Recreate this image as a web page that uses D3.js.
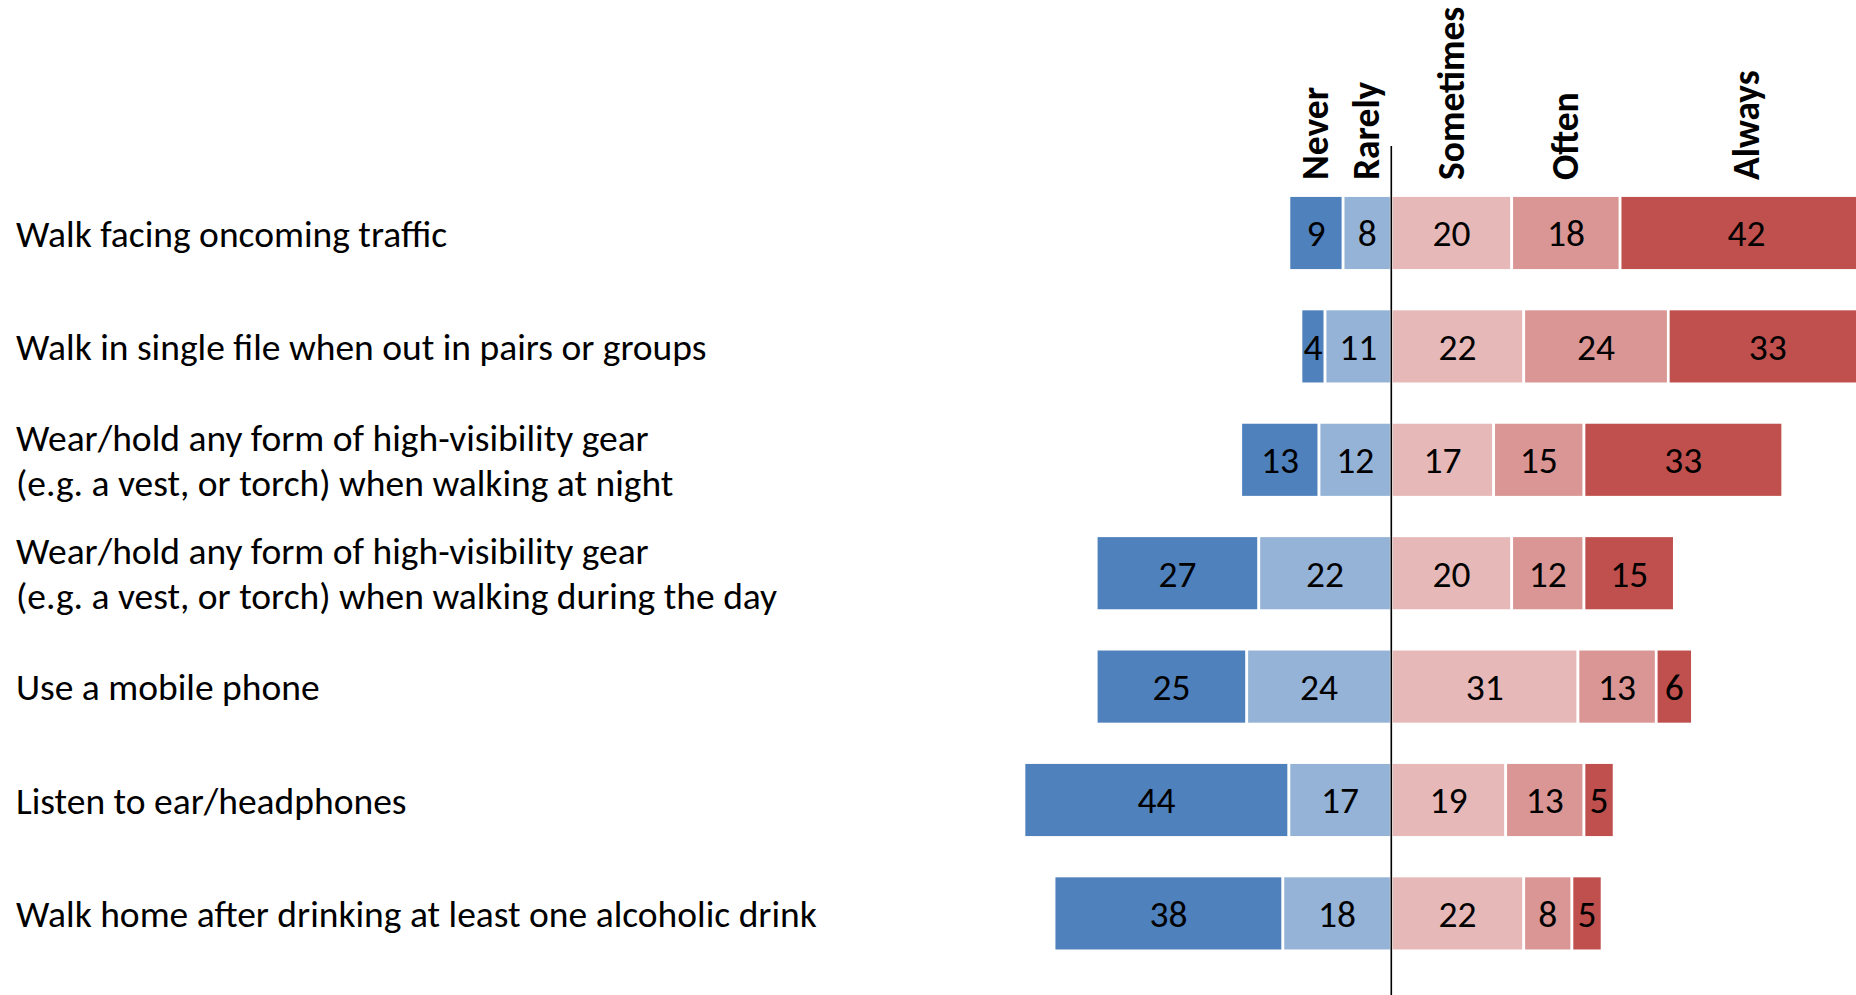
<!DOCTYPE html>
<html lang="en">
<head>
    <meta charset="UTF-8">
    <title>Pedestrian behaviour</title>
    <style>
        body {
            margin: 0;
            background-color: #ffffff;
        }

        svg {
            display: block;
            font-family: "Carlito", "Calibri", "Lato", sans-serif;
        }

        .row-label {
            font-size: 37.5px;
            fill: #000000;
        }

        .value-label {
            font-size: 37.5px;
            fill: #000000;
            text-anchor: middle;
        }

        .header-label {
            font-size: 37.5px;
            font-weight: bold;
            fill: #000000;
        }
    </style>
</head>
<body>
    <svg id="chart" width="1856" height="995"></svg>

    <script src="https://d3js.org/d3.v7.min.js"></script>
    <script>
        // categories (line breaks as in the original labels)
        const categories = [
            "Walk facing oncoming traffic",
            "Walk in single file when out in pairs or groups",
            "Wear/hold any form of high-visibility gear\n(e.g. a vest, or torch) when walking at night",
            "Wear/hold any form of high-visibility gear\n(e.g. a vest, or torch) when walking during the day",
            "Use a mobile phone",
            "Listen to ear/headphones",
            "Walk home after drinking at least one alcoholic drink"
        ];

        const responses = ["Never", "Rarely", "Sometimes", "Often", "Always"];

        // percentages per response
        const never     = [9, 4, 13, 27, 25, 44, 38];
        const rarely    = [8, 11, 12, 22, 24, 17, 18];
        const sometimes = [20, 22, 17, 20, 31, 19, 22];
        const often     = [18, 24, 15, 12, 13, 13, 8];
        const always    = [42, 33, 33, 15, 6, 5, 5];

        const colors = ["#4f81bd", "#95b3d7", "#e6b9b8", "#d99694", "#c0504d"];

        const width = 1856, height = 995;
        const svg = d3.select("#chart");

        svg.append("rect")
            .attr("width", width)
            .attr("height", height)
            .attr("fill", "#ffffff");

        // build one row per category, with segments going left (negative) and right
        const rows = categories.map((c, i) => {
            const vals = [never[i], rarely[i], sometimes[i], often[i], always[i]];
            const segs = [];
            // left side: Rarely next to the axis, Never outside it
            let left = -(vals[0] + vals[1]);
            for (let k = 0; k < 2; k++) {
                segs.push({ key: responses[k], value: vals[k], x0: left, x1: left + vals[k], k });
                left += vals[k];
            }
            let right = 0;
            for (let k = 2; k < 5; k++) {
                segs.push({ key: responses[k], value: vals[k], x0: right, x1: right + vals[k], k });
                right += vals[k];
            }
            return { category: c, index: i, segs };
        });

        const x = d3.scaleLinear()
            .domain([-60, 60])
            .range([1030, 1752.6]);

        const y = d3.scaleBand()
            .domain(d3.range(categories.length))
            .range([176.3, 176.3 + 113.4 * categories.length])
            .paddingInner(0.34)
            .paddingOuter(0.17);

        const rowG = svg.selectAll("g.row")
            .data(rows)
            .enter()
            .append("g")
            .attr("class", "row")
            .attr("transform", d => `translate(0,${y(d.index)})`);

        rowG.selectAll("rect")
            .data(d => d.segs)
            .enter()
            .append("rect")
            .attr("x", d => x(d.x0))
            .attr("y", 0)
            .attr("width", d => x(d.x1) - x(d.x0))
            .attr("height", y.bandwidth())
            .attr("fill", d => colors[d.k])
            .attr("stroke", "#ffffff")
            .attr("stroke-width", 2.7);

        rowG.selectAll("text.value-label")
            .data(d => d.segs)
            .enter()
            .append("text")
            .attr("class", "value-label")
            .attr("x", d => x((d.x0 + d.x1) / 2))
            .attr("y", y.bandwidth() / 2 + 13.5)
            .text(d => d.value);

        // category labels on the left
        const labelG = svg.append("g");
        rows.forEach(r => {
            const lines = r.category.split("\n");
            const cy = y(r.index) + y.bandwidth() / 2;
            const t = labelG.append("text")
                .attr("class", "row-label")
                .attr("x", 16)
                .attr("y", cy + 13.5 - (lines.length - 1) * 22.5);
            lines.forEach((ln, j) => {
                t.append("tspan")
                    .attr("x", 16)
                    .attr("dy", j === 0 ? 0 : 45)
                    .text(ln);
            });
        });

        // response headers, rotated, over the first row's segments
        svg.append("g")
            .selectAll("text")
            .data(rows[0].segs)
            .enter()
            .append("text")
            .attr("class", "header-label")
            .attr("transform", d => `translate(${x((d.x0 + d.x1) / 2) + 12},180) rotate(-90)`)
            .text(d => d.key);

        // zero line
        svg.append("line")
            .attr("x1", x(0))
            .attr("x2", x(0))
            .attr("y1", 146)
            .attr("y2", height)
            .attr("stroke", "#000000")
            .attr("stroke-width", 1.6);
    </script>
</body>
</html>
